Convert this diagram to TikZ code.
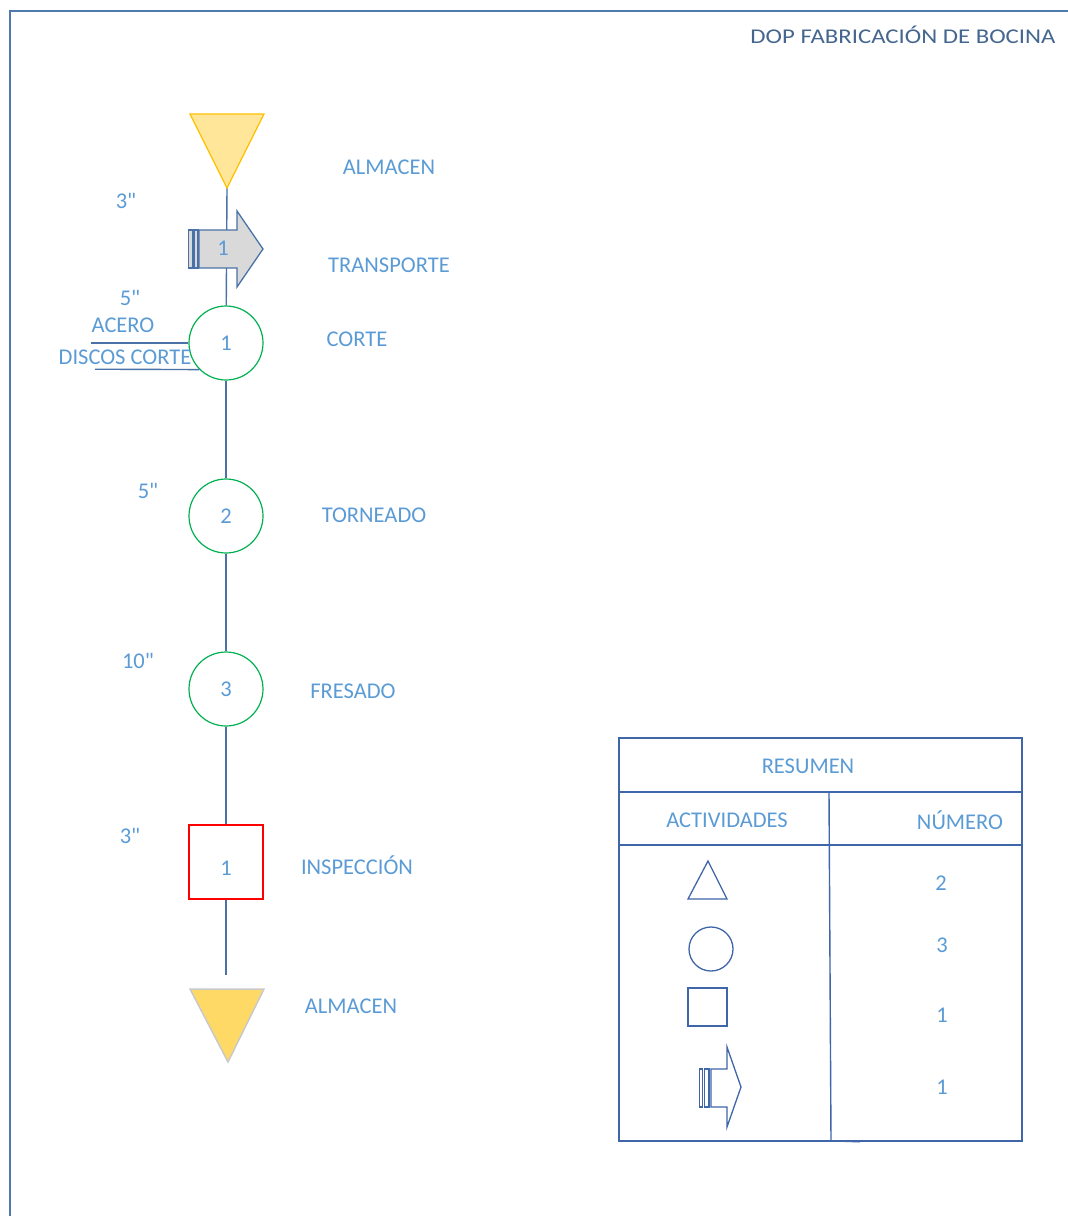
\documentclass[tikz,border=0pt]{standalone}
\usepackage{fontspec}
\usepackage{graphicx}
\setmainfont{Carlito}
% plain font family: keeps straight quote marks for the times
\newfontfamily\labelfont{Carlito}
\usetikzlibrary{calc,backgrounds}
\definecolor{lbl}{HTML}{5B9BD5}
\definecolor{ttl}{HTML}{44668F}
\definecolor{flow}{HTML}{4A72A6}
\definecolor{tbl}{HTML}{3E66A8}
\definecolor{framec}{HTML}{4F7AAE}
\definecolor{opgreen}{HTML}{00B050}
\definecolor{insred}{HTML}{FF0000}
\definecolor{almfill}{HTML}{FFE699}
\definecolor{almline}{HTML}{FFC000}
\definecolor{almfilltwo}{HTML}{FFD966}
\definecolor{almlinetwo}{HTML}{C9C9C9}
\definecolor{trfill}{HTML}{D9D9D9}
\begin{document}
\begin{tikzpicture}[x=1pt,y=-1pt,
  txt/.style={text=lbl, font=\labelfont\fontsize{22.5}{26}\selectfont, inner sep=0pt},
  opcircle/.style={circle, draw=opgreen, line width=1.2pt, minimum size=74pt,
    inner sep=0pt, text=lbl, font=\labelfont\fontsize{22.5}{26}\selectfont},
  insbox/.style={rectangle, draw=insred, line width=1.2pt, minimum size=74pt,
    inner sep=0pt},
  flowline/.style={draw=flow, line width=1.4pt},
  trshape/.style={draw=flow, line width=1.3pt, fill=trfill, line join=miter},
  tblline/.style={draw=tbl, line width=1.4pt},
  legend/.style={draw=tbl, line width=1.3pt},
  framel/.style={draw=framec, line width=2pt}
]
\useasboundingbox (0,0) rectangle (1068,1216);

% page frame and title
\draw[framel] (9,11) -- (1068,11);
\draw[framel] (10,11) -- (10,1216);
\node[txt, text=ttl, font=\labelfont\fontsize{21}{25}\selectfont] (title) at (903,35)
  {\scalebox{1.18}[1]{DOP FABRICACIÓN DE BOCINA}};

% initial storage
\draw[draw=almline, fill=almfill, line width=1.3pt, line join=miter]
  (190,114) -- (264,114) -- (227,188) -- cycle;
\coordinate (alm1) at (227,188);
\node[txt] (alm1lbl) at (389,167) {ALMACEN};

% operations and inspection
\node[opcircle] (c1) at (226,343) {1};
\node[opcircle] (c2) at (226,516) {2};
\node[opcircle] (c3) at (226,689) {3};
\node[insbox] (insp) at (226,862) {};
\node[txt] (insnum) at (226,868) {1};
\coordinate (flowend) at (226,975);

% flow line behind the shapes
\begin{scope}[on background layer]
  \draw[flowline] (alm1) -- (c1);
\end{scope}
\draw[flowline] (c1) -- (c2);
\draw[flowline] (c2) -- (c3);
\draw[flowline] (c3) -- (insp);
\draw[flowline] (insp) -- (flowend);

% transport arrow
\draw[trshape] (199,230) -- (237,230) -- (237,211) -- (263,249) -- (237,287)
  -- (237,268) -- (199,268) -- cycle;
\draw[trshape] (188.5,230) rectangle (192.5,268);
\draw[trshape] (194,230) rectangle (198,268);
\node[txt] (trnum) at (223,248) {1};

% final storage
\draw[draw=almlinetwo, fill=almfilltwo, line width=1.5pt, line join=miter]
  (190,989) -- (264,989) -- (228,1062) -- cycle;

% material inputs
\coordinate (acero) at (91,343);
\coordinate (discos) at (95,369.2);
\draw[flowline] (acero) -- (c1.west);
\draw[flowline] (discos) -- (c1.225);
\node[txt] (acerolbl) at (123,325) {ACERO};
\node[txt] (discoslbl) at (125,357) {DISCOS CORTE};

% times
\node[txt] (t1) at (126,201) {3"};
\node[txt] (t2) at (130,298) {5"};
\node[txt] (t3) at (148,491) {5"};
\node[txt] (t4) at (138,661) {10"};
\node[txt] (t5) at (130,836) {3"};

% activity labels
\node[txt] (l1) at (389,265) {TRANSPORTE};
\node[txt] (l2) at (357,339) {CORTE};
\node[txt] (l3) at (374,515) {TORNEADO};
\node[txt] (l4) at (353,691) {FRESADO};
\node[txt] (l5) at (357,865) {INSPECCIÓN};
\node[txt] (l6) at (351,1006) {ALMACEN};

% summary table
\draw[tblline] (619,738) rectangle (1022,1141);
\draw[tblline] (619,792) -- (1022,792);
\draw[tblline] (619,845) -- (1022,845);
\draw[tblline] (829,792) -- (831,1141);
\draw[draw=tbl, line width=1pt] (831,1141) -- (860,1142);
\node[txt] (resumen) at (808,766) {RESUMEN};
\node[txt] (activ) at (727,820) {ACTIVIDADES};
\node[txt] (numero) at (960,820) {NÚMERO};

% legend symbols
\draw[legend] (708,861) -- (727,899) -- (688,899) -- cycle;
\draw[legend] (711,949) circle (22);
\draw[legend] (688,988) rectangle (727,1026);
\draw[legend] (711,1069) -- (727,1069) -- (727,1047) -- (741,1087) -- (727,1127)
  -- (727,1107) -- (711,1107) -- cycle;
\draw[legend] (699.5,1069) rectangle (702.5,1107);
\draw[legend] (704.5,1069) rectangle (709,1107);

% counts
\node[txt] (n1) at (941,883) {2};
\node[txt] (n2) at (942,945) {3};
\node[txt] (n3) at (942,1015) {1};
\node[txt] (n4) at (942,1087) {1};
\end{tikzpicture}
\end{document}
